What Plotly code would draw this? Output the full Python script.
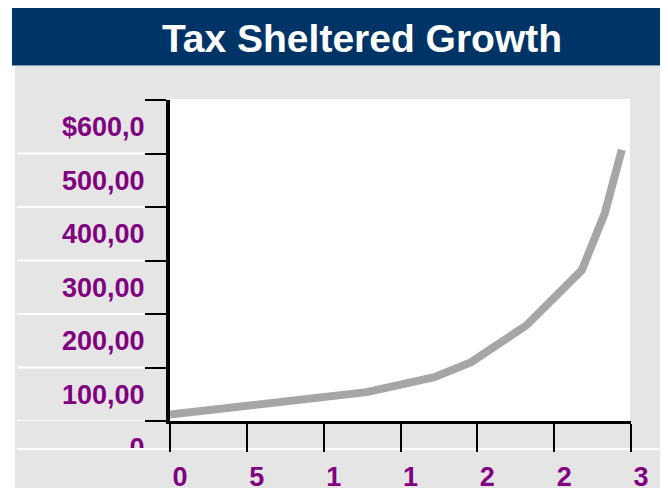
import plotly.graph_objects as go

# ---- data ----
years = [0, 10, 12.8, 17.2, 19.6, 23.2, 26.8, 28.3, 29.4]
values = [12, 43, 54, 82, 110, 179, 282, 389, 507]

x_tickvals = [0, 5, 10, 15, 20, 25, 30]
x_ticktext = ["0", "5", "1", "1", "2", "2", "3"]
y_tickvals = [0, 100, 200, 300, 400, 500, 600]
y_ticktext = ["0", "100,00", "200,00", "300,00", "400,00", "500,00", "$600,0"]
title_text = "Tax Sheltered Growth"

# ---- styling ----
OFF = 8  # page body margin
W, H = 660, 480
L, R, T, B = 162, 37, 92, 67
PW, PH = W - L - R, H - T - B
FONT = "Liberation Sans, Arial, Helvetica, sans-serif"
PURPLE = "#800080"
NAVY = "#003366"
GRAY = "#e5e5e5"


def px(xp):  # page pixel -> paper
    return (xp - OFF - L) / PW


def py(yp):
    return (H - B - (yp - OFF)) / PH


fig = go.Figure()
fig.add_trace(go.Scatter(
    x=years, y=values, mode="lines",
    line=dict(color="#a6a6a6", width=8),
    hoverinfo="skip", showlegend=False,
))

shapes = [
    dict(type="rect", xref="paper", yref="paper", layer="below",
         x0=px(15), x1=px(700), y0=py(520), y1=py(66),
         fillcolor=GRAY, line=dict(width=0)),
    dict(type="rect", xref="paper", yref="paper", layer="below",
         x0=px(12), x1=px(700), y0=py(65.5), y1=py(0),
         fillcolor=NAVY, line=dict(width=0)),
    dict(type="rect", xref="paper", yref="paper", layer="below",
         x0=px(170), x1=px(630), y0=py(421), y1=py(99),
         fillcolor="white", line=dict(width=0)),
]
for v in y_tickvals[:-1]:
    shapes.append(dict(type="line", xref="paper", yref="y", layer="below",
                       x0=px(17), x1=px(149), y0=v, y1=v,
                       line=dict(color="white", width=2)))
shapes.append(dict(type="line", xref="paper", yref="paper", layer="below",
                   x0=px(17), x1=px(700), y0=py(449), y1=py(449),
                   line=dict(color="white", width=2)))
# clip the lowest y label
shapes.append(dict(type="rect", xref="paper", yref="paper", layer="above",
                   x0=px(15), x1=px(160), y0=py(520), y1=py(450),
                   fillcolor=GRAY, line=dict(width=0)))
shapes.append(dict(type="line", xref="paper", yref="paper", layer="above",
                   x0=px(17), x1=px(150), y0=py(449), y1=py(449),
                   line=dict(color="white", width=2)))

fig.update_layout(
    width=W, height=H,
    margin=dict(l=L, r=R, t=T, b=B, pad=0, autoexpand=False),
    paper_bgcolor="white",
    plot_bgcolor="rgba(0,0,0,0)",
    shapes=shapes,
    title=dict(text=title_text, x=(362 - OFF) / W, xanchor="center",
               y=1 - (38 - OFF) / H, yanchor="middle", yref="container",
               font=dict(family=FONT, size=39, color="white", weight="bold")),
    xaxis=dict(range=[0, 30], tickvals=x_tickvals, ticktext=x_ticktext,
               showgrid=False, zeroline=False, showline=True,
               linecolor="black", linewidth=3, ticks="outside",
               ticklen=28, tickwidth=2, tickcolor="black",
               ticklabelshift=10, ticklabelstandoff=2, automargin=False,
               tickfont=dict(family=FONT, size=27, color=PURPLE, weight="bold"),
               fixedrange=True),
    yaxis=dict(range=[0, 600], tickvals=y_tickvals, ticktext=y_ticktext,
               showgrid=False, zeroline=False, showline=True,
               linecolor="black", linewidth=4, ticks="outside",
               ticklen=21, tickwidth=2, tickcolor="black",
               ticklabelshift=27, ticklabelstandoff=-5, automargin=False,
               tickfont=dict(family=FONT, size=27, color=PURPLE, weight="bold"),
               fixedrange=True),
)

fig.write_html("out.html")
